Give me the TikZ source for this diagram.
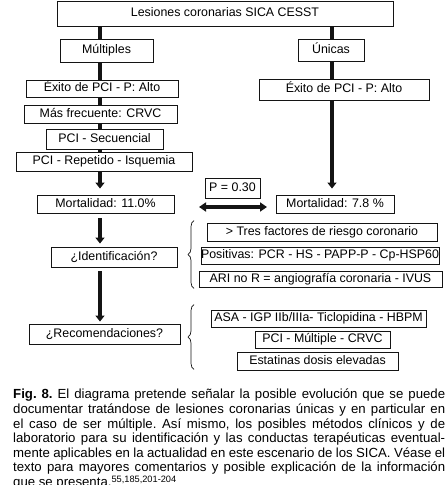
\documentclass[tikz,border=0pt]{standalone}
\usepackage{fontspec}
\setmainfont{Liberation Sans}
\usetikzlibrary{arrows.meta, decorations.pathreplacing}
\definecolor{cink}{HTML}{141414}
\tikzset{
  every picture/.style={font=\fontsize{12.4}{14.6}\selectfont},
  box/.style={draw=cink, line width=0.9pt, inner sep=0pt, text height=9pt, text depth=2.6pt, align=center},
  trunk/.style={draw=cink, line width=3.2pt},
  arrow/.style={trunk, -{Triangle[length=6pt, width=9pt]}},
  dblarrow/.style={trunk, {Triangle[length=7pt, width=9pt]}-{Triangle[length=7pt, width=9pt]}},
  brace/.style={draw=cink, line width=0.7pt, decorate, decoration={brace, amplitude=6pt}},
  caption/.style={text width=432pt, align=justify, inner sep=0pt, anchor=north west, font=\fontsize{13.2}{14.6}\selectfont\frenchspacing},
}

\begin{document}
\begin{tikzpicture}[x=1pt, y=-1pt]
  \useasboundingbox (0,0) rectangle (446,485);
  \node[box, minimum width=336pt, minimum height=25pt] (top) at (225,13.5) {Lesiones coronarias SICA CESST};
  % left column: multiple lesions
  \node[box, minimum width=93pt, minimum height=23pt] (mult) at (106.5,50.5) {Múltiples};
  \node[box, minimum width=152pt, minimum height=17pt] (exL) at (102,88.5) {Éxito de PCI - P: Alto};
  \node[box, minimum width=153pt, minimum height=18pt] (masf) at (100.5,114) {Más frecuente: CRVC};
  \node[box, minimum width=117pt, minimum height=20pt] (pcis) at (104.5,139) {PCI - Secuencial};
  \node[box, minimum width=176pt, minimum height=19pt] (pcir) at (104,161.5) {PCI - Repetido - Isquemia};
  \node[box, minimum width=137pt, minimum height=18pt] (mortL) at (105.5,204) {Mortalidad: 11.0\%};
  \node[box, minimum width=126pt, minimum height=20pt] (ident) at (114,257) {¿Identificación?};
  \node[box, minimum width=151pt, minimum height=20pt] (recom) at (104.5,334) {¿Recomendaciones?};
  % right column: single lesions
  \node[box, minimum width=66pt, minimum height=22pt] (unic) at (331,50) {Únicas};
  \node[box, minimum width=170pt, minimum height=21pt] (exR) at (344,89.5) {Éxito de PCI - P: Alto};
  \node[box, minimum width=118pt, minimum height=18pt] (mortR) at (335,204) {Mortalidad: 7.8 \%};
  \node[box, minimum width=55pt, minimum height=20pt] (pval) at (232.5,188) {P = 0.30};
  % identification and recommendations
  \node[box, minimum width=230pt, minimum height=18pt] (tres) at (322,232) {> Tres factores de riesgo coronario};
  \node[box, minimum width=238pt, minimum height=17pt] (posi) at (320,255.5) {Positivas: PCR - HS - PAPP-P - Cp-HSP60};
  \node[box, minimum width=243pt, minimum height=16pt] (ari) at (320.5,279) {ARI no R = angiografía coronaria - IVUS};
  \node[box, minimum width=215pt, minimum height=17pt] (asa) at (318.5,318.5) {ASA - IGP IIb/IIIa- Ticlopidina - HBPM};
  \node[box, minimum width=135pt, minimum height=17pt] (pcim) at (322.5,339.5) {PCI - Múltiple - CRVC};
  \node[box, minimum width=161pt, minimum height=18pt] (esta) at (317.5,361) {Estatinas dosis elevadas};
  % connectors
  \coordinate (colL) at (100,0);
  \coordinate (colR) at (332,0);
  \coordinate (bx) at (194,0);
  \foreach \a/\b in {top/mult, mult/exL, exL/masf, masf/pcis, pcis/pcir}
    \draw[trunk] (colL |- \a.south) -- (colL |- \b.north);
  \foreach \a/\b in {top/unic, unic/exR}
    \draw[trunk] (colR |- \a.south) -- (colR |- \b.north);
  \draw[arrow, shorten >=6pt] (colL |- pcir.south) -- (colL |- mortL.north);
  \draw[arrow, shorten <=5pt, shorten >=3pt] (colL |- mortL.south) -- (colL |- ident.north);
  \draw[arrow, shorten <=4pt, shorten >=2pt] (colL |- ident.south) -- (colL |- recom.north);
  \draw[arrow, shorten >=6pt] (colR |- exR.south) -- (colR |- mortR.north);
  \coordinate (pl) at (199,207);
  \coordinate (pr) at (267,207);
  \draw[dblarrow] (pl) -- (pr);
  \draw[brace] ([yshift=-1pt]bx |- ari.south) -- ([yshift=2pt]bx |- tres.north);
  \draw[brace] ([yshift=1pt]bx |- esta.south) -- ([yshift=5pt]bx |- asa.north);
  % caption
  \node[caption] (cap) at (13,389) {\textbf{Fig. 8.} El diagrama pretende señalar la posible evolución que se puede\linebreak
    documentar tratándose de lesiones coronarias únicas y en particular en\linebreak
    el caso de ser múltiple. Así mismo, los posibles métodos clínicos y de\linebreak
    laboratorio para su identificación y las conductas terapéuticas eventual-\linebreak
    mente aplicables en la actualidad en este escenario de los SICA. Véase el\linebreak
    texto para mayores comentarios y posible explicación de la información\linebreak
    que se presenta.\textsuperscript{55,185,201-204}};
\end{tikzpicture}
\end{document}
